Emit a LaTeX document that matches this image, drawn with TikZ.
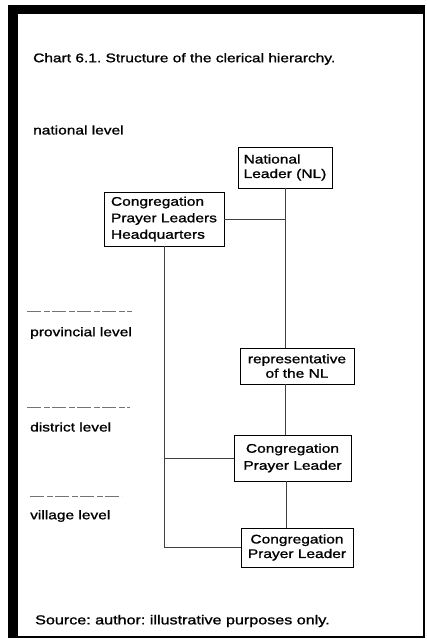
\documentclass[tikz,border=0pt]{standalone}
\usepackage{fontspec}
\setmainfont{Liberation Sans}[FakeStretch=1.24, FakeBold=1.2]
\frenchspacing
\usetikzlibrary{positioning}

\begin{document}
\begin{tikzpicture}[x=1pt,y=-1pt]
\tikzset{
	box node/.style = {draw, line width=0.8pt, inner sep=0pt, font=\fontsize{12.5}{14.5}\selectfont},
	text node/.style = {anchor=west, inner sep=0pt, font=\fontsize{12.5}{15}\selectfont},
	level line/.style = {black!55, dash pattern=on 14pt off 3pt on 6pt off 2pt, line width=0.5pt},
	link/.style = {line width=0.8pt, black!75},
}
\useasboundingbox (0,0) rectangle (427,640);
% frame
\fill[black] (8,5) rectangle (424,14);
\fill[black] (8,5) rectangle (18,638);
\draw[line width=1.5pt] (18,637) -- (424,637) -- (424,5);

\node(title)[text node] at (33,59) {Chart 6.1. Structure of the clerical hierarchy.};
\node(national)[text node] at (33,130) {national level};
\node(provincial)[text node] at (30,333) {provincial level};
\node(district)[text node] at (30,427) {district level};
\node(village)[text node] at (30,516) {village level};
\node(source)[text node, font=\fontsize{13}{15}\selectfont] at (35,621) {Source: author: illustrative purposes only.};

\draw[level line] (27,311) -- (132,311);
\draw[level line] (27,407) -- (130,407);
\draw[level line] (30,496) -- (122,496);

\node(nl)[box node, align=left, minimum width=94, minimum height=41] at (285,167.5) {National\\Leader (NL)};
\node(hq)[box node, align=left, minimum width=120, minimum height=54, font=\fontsize{12.5}{16.5}\selectfont] at (164,219) {Congregation\\Prayer Leaders\\Headquarters};
\node(rep)[box node, align=center, minimum width=114, minimum height=36] at (297,366) {representative\\of the NL};
\node(cpl1)[box node, align=center, minimum width=117, minimum height=46, font=\fontsize{12.5}{17}\selectfont] at (292.5,458) {Congregation\\Prayer Leader};
\node(cpl2)[box node, align=center, minimum width=112, minimum height=39] at (297,547.5) {Congregation\\Prayer Leader};

\coordinate(spine) at (285,0);
\draw[link] (nl.south) -- (nl.south |- rep.north);
\draw[link] (hq.east) -- (hq.east -| nl.south);
\draw[link] (spine |- rep.south) -- (spine |- cpl1.north);
\draw[link] ([xshift=1pt]spine |- cpl1.south) -- ([xshift=1pt]spine |- cpl2.north);
\draw[link] (hq.south) |- (cpl2.west);
\draw[link] (hq.south |- cpl1.west) -- (cpl1.west);
\end{tikzpicture}
\end{document}
